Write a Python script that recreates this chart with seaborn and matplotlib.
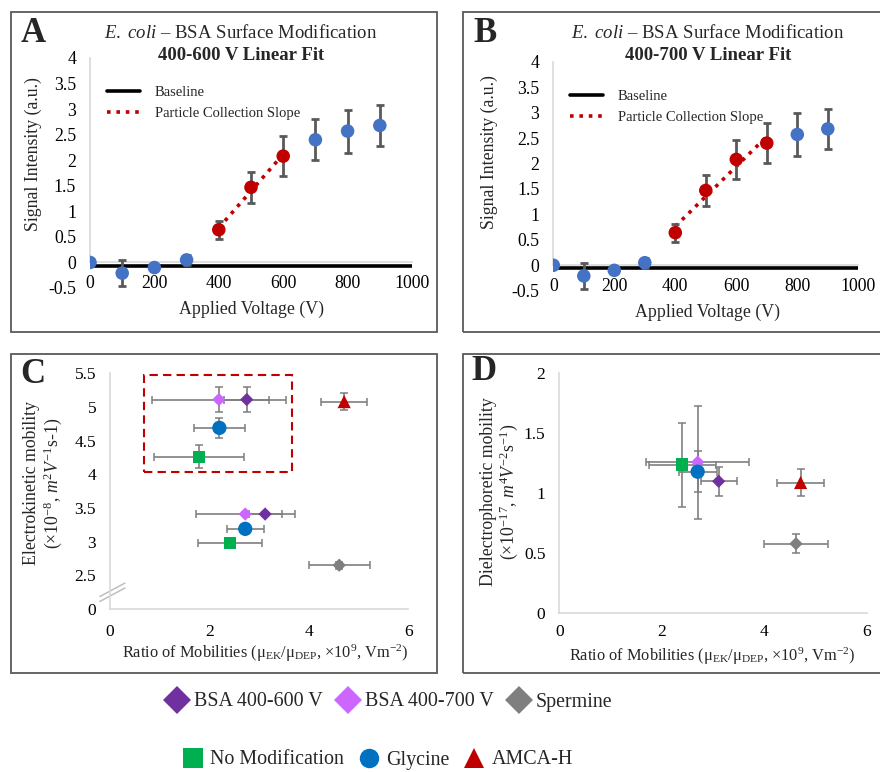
import numpy as np
import pandas as pd
import seaborn as sns
import matplotlib
matplotlib.use("Agg")
import matplotlib.pyplot as plt
from matplotlib.patches import Rectangle
from matplotlib.lines import Line2D
from matplotlib.ticker import FuncFormatter

# ---- panel A / B data (signal vs applied voltage) ----
voltage = [0, 100, 200, 300, 400, 500, 600, 700, 800, 900]
signal = [0.0, -0.21, -0.10, 0.05, 0.64, 1.47, 2.08, 2.40, 2.57, 2.68]
signal_err = [0.0, 0.26, 0.06, 0.10, 0.18, 0.30, 0.39, 0.40, 0.42, 0.40]
fit_range_a = (400, 600)
fit_range_b = (400, 700)

# ---- panel C / D data ----
groups = ["BSA 400-600 V", "BSA 400-700 V", "Spermine", "No Modification", "Glycine", "AMCA-H"]
colors = ["#7030A0", "#CC66FF", "#7F7F7F", "#00B050", "#0070C0", "#C00000"]
markers = ["D", "D", "D", "s", "o", "^"]

# C, upper cluster (inside dashed box) + AMCA-H
c_hi_groups = ["BSA 400-600 V", "BSA 400-700 V", "No Modification", "Glycine", "AMCA-H"]
c_hi_ratio = [2.75, 2.19, 1.79, 2.20, 4.71]
c_hi_ratio_err = [0.45, 1.35, 0.90, 0.52, 0.46]
c_hi_ek = [5.11, 5.11, 4.26, 4.69, 5.08]
c_hi_ek_err = [0.19, 0.19, 0.17, 0.15, 0.13]

# C, lower cluster
c_lo_groups = ["BSA 400-600 V", "BSA 400-700 V", "Spermine", "No Modification", "Glycine"]
c_lo_ratio = [3.12, 2.72, 4.61, 2.41, 2.72]
c_lo_ratio_err = [0.33, 1.00, 0.61, 0.65, 0.37]
c_lo_ek = [3.41, 3.41, 2.65, 2.98, 3.19]
c_lo_ek_err = [0.03, 0.03, 0.05, 0.03, 0.03]

# D
d_groups = ["BSA 400-600 V", "BSA 400-700 V", "Spermine", "No Modification", "Glycine", "AMCA-H"]
d_ratio = [3.11, 2.70, 4.62, 2.40, 2.70, 4.71]
d_ratio_err = [0.35, 1.00, 0.62, 0.65, 0.37, 0.46]
d_dep = [1.10, 1.26, 0.58, 1.24, 1.18, 1.09]
d_dep_err = [0.12, 0.47, 0.08, 0.35, 0.17, 0.11]

sns.set_style("white")
plt.rcParams['font.family'] = ['Liberation Serif', 'DejaVu Serif']
plt.rcParams['mathtext.fontset'] = 'custom'
plt.rcParams['mathtext.rm'] = 'Liberation Serif'
plt.rcParams['mathtext.it'] = 'Liberation Serif:italic'
plt.rcParams['mathtext.bf'] = 'Liberation Serif:bold'
plt.rcParams['axes.unicode_minus'] = False

W, H = 880, 772
fig = plt.figure(figsize=(W / 100, H / 100), dpi=100)


def px_axes(x0, x1, ytop, ybot):
    return fig.add_axes([x0 / W, 1 - ybot / H, (x1 - x0) / W, (ybot - ytop) / H])


def frame(x0, y0, x1, y1):
    fig.add_artist(Rectangle((x0 / W, 1 - y1 / H), (x1 - x0) / W, (y1 - y0) / H,
                             transform=fig.transFigure, fill=False,
                             ec="#595959", lw=1.3))


fmt = FuncFormatter(lambda v, p: f"{v:g}")
marker_size = {"D": 46, "s": 80, "o": 106, "^": 90}
gcolor = dict(zip(groups, colors))
gmarker = dict(zip(groups, markers))

frame(10.7, 12.3, 437.3, 332.3)
frame(463.3, 12.3, 882, 332.3)
frame(10.7, 354, 437.3, 672.7)
frame(463.3, 354, 882, 672.7)

# ---------------- A & B ----------------
df_sig = pd.DataFrame({"voltage": voltage, "signal": signal, "err": signal_err})
panels_ab = [
    (px_axes(90, 412, 58, 288), fit_range_a, "A", 33, 241, "400-600 V Linear Fit"),
    (px_axes(553.3, 858.3, 61.7, 290.7), fit_range_b, "B", 485, 708, "400-700 V Linear Fit"),
]
for ax, (lo, hi), letter, lx, tx, sub in panels_ab:
    inside = df_sig[(df_sig.voltage >= lo) & (df_sig.voltage <= hi)]
    outside = df_sig[(df_sig.voltage < lo) | (df_sig.voltage > hi)]
    ax.plot([0, 1000], [-0.06, -0.06], color="black", lw=2.6, label="Baseline", zorder=2)
    k, b = np.polyfit(inside.voltage, inside.signal, 1)
    xs = np.array([lo, hi])
    ax.plot(xs, k * xs + b, color="#C00000", ls=(0, (1, 1.6)), lw=2.6,
            label="Particle Collection Slope", zorder=3)
    ax.errorbar(df_sig.voltage, df_sig.signal, yerr=df_sig.err, fmt="none",
                ecolor="#595959", elinewidth=2, capsize=3, capthick=2, zorder=4)
    sns.scatterplot(data=outside, x="voltage", y="signal", ax=ax, color="#4472C4",
                    s=95, edgecolor="none", zorder=5)
    sns.scatterplot(data=inside, x="voltage", y="signal", ax=ax, color="#C00000",
                    s=95, edgecolor="none", zorder=5)
    ax.set_xlim(0, 1000)
    ax.set_ylim(-0.5, 4)
    ax.set_xticks(range(0, 1001, 200))
    ax.set_yticks(np.arange(-0.5, 4.01, 0.5))
    ax.yaxis.set_major_formatter(fmt)
    ax.spines["bottom"].set_position(("data", 0))
    ax.spines["left"].set_bounds(0, 4)
    for s in ["top", "right"]:
        ax.spines[s].set_visible(False)
    for s in ["bottom", "left"]:
        ax.spines[s].set_color("#D9D9D9")
        ax.spines[s].set_linewidth(1.2)
    ax.tick_params(axis="both", length=0, labelsize=12.8, colors="#000000")
    ax.tick_params(axis="y", pad=10)
    ax.tick_params(axis="x", pad=9)
    ax.set_xlabel("Applied Voltage (V)", fontsize=12.8)
    ax.set_ylabel("Signal Intensity (a.u.)", fontsize=12.8)
    ax.legend(loc="upper left", bbox_to_anchor=(0.03, 0.91), frameon=False,
              fontsize=10.5, borderpad=0, handlelength=2.3, handletextpad=1.0,
              labelspacing=0.55)
    fig.text(lx / W, 1 - 33 / H, letter, fontsize=25, fontweight="bold",
             ha="center", va="center")
    fig.text(tx / W, 1 - 33 / H, r"$\mathit{E.\ coli}$ – BSA Surface Modification",
             fontsize=13.5, ha="center", va="center")
    fig.text(tx / W, 1 - 55 / H, sub, fontsize=13.5, fontweight="bold",
             ha="center", va="center")

axA, axB = panels_ab[0][0], panels_ab[1][0]
axA.xaxis.set_label_coords(0.5, -0.057)
axA.yaxis.set_label_coords(-0.15, 0.583)
axB.xaxis.set_label_coords(0.504, -0.058)
axB.yaxis.set_label_coords(-0.181, 0.606)

# ---------------- C & D ----------------
axC = px_axes(110, 408.3, 373.3, 609)
axD = px_axes(559.3, 866.7, 373.3, 613.3)

df_c = pd.concat([
    pd.DataFrame({"group": c_hi_groups, "ratio": c_hi_ratio, "rerr": c_hi_ratio_err,
                  "y": c_hi_ek, "yerr": c_hi_ek_err}),
    pd.DataFrame({"group": c_lo_groups, "ratio": c_lo_ratio, "rerr": c_lo_ratio_err,
                  "y": c_lo_ek, "yerr": c_lo_ek_err}),
], ignore_index=True)
df_d = pd.DataFrame({"group": d_groups, "ratio": d_ratio, "rerr": d_ratio_err,
                     "y": d_dep, "yerr": d_dep_err})

for ax, df in [(axC, df_c), (axD, df_d)]:
    ax.errorbar(df.ratio, df.y, xerr=df.rerr, yerr=df.yerr, fmt="none",
                ecolor="#7F7F7F", elinewidth=1.2, capsize=3, capthick=1.1, zorder=2)
    for g in groups:
        sub = df[df.group == g]
        if len(sub) == 0:
            continue
        sns.scatterplot(data=sub, x="ratio", y="y", ax=ax, color=gcolor[g],
                        marker=gmarker[g], s=marker_size[gmarker[g]],
                        edgecolor="none", zorder=4)
    ax.set_xlim(0, 6)
    ax.set_xticks([0, 2, 4, 6])
    for s in ["top", "right"]:
        ax.spines[s].set_visible(False)
    for s in ["bottom", "left"]:
        ax.spines[s].set_color("#D9D9D9")
        ax.spines[s].set_linewidth(1.2)
    ax.tick_params(axis="both", length=0, labelsize=12.5, colors="#000000")
    ax.tick_params(axis="y", pad=10)
    ax.set_xlabel(r"Ratio of Mobilities (μ$_{\rm EK}$/μ$_{\rm DEP}$, ×10$^{9}$, Vm$^{-2}$)",
                  fontsize=11.8)

# C: broken y axis, bottom tick 2.0 labelled as 0
axC.set_ylim(2.0, 5.5)
c_ticks = np.arange(2.0, 5.51, 0.5)
axC.set_yticks(c_ticks)
axC.set_yticklabels(["0"] + [f"{v:g}" for v in c_ticks[1:]])
axC.tick_params(axis="x", pad=11)
axC.add_patch(Rectangle((0.68, 4.03), 2.99, 1.45, fill=False, ec="#C00000",
                        ls=(0, (4, 2.5)), lw=1.5, zorder=1))
for dy in (0.0, -0.021):
    axC.plot([-0.034, 0.05], [0.053 + dy, 0.110 + dy], transform=axC.transAxes,
             color="#BFBFBF", lw=1.1, clip_on=False)
axC.set_ylabel("Electrokinetic mobility\n(×10$^{-8}$, $m^{2}V^{-1}$s-1)",
               fontsize=12.8, linespacing=1.05)
axC.xaxis.set_label_coords(0.52, -0.144)
axC.yaxis.set_label_coords(-0.155, 0.535)

axD.set_ylim(0, 2)
axD.set_yticks(np.arange(0, 2.01, 0.5))
axD.yaxis.set_major_formatter(fmt)
axD.tick_params(axis="x", pad=8)
axD.set_ylabel("Dielectrophoretic mobility\n(×10$^{-17}$, $m^{4}V^{-2}$s$^{-1}$)",
               fontsize=12.8, linespacing=1.05)
axD.xaxis.set_label_coords(0.497, -0.136)
axD.yaxis.set_label_coords(-0.128, 0.505)

fig.text(33 / W, 1 - 375 / H, "C", fontsize=25, fontweight="bold", ha="center", va="center")
fig.text(484 / W, 1 - 372 / H, "D", fontsize=25, fontweight="bold", ha="center", va="center")

# ---------------- bottom legends ----------------
def handle(g):
    return Line2D([], [], ls="", marker=gmarker[g], color=gcolor[g], markersize=14,
                  markeredgewidth=0)

row1 = ["BSA 400-600 V", "BSA 400-700 V", "Spermine"]
row2 = ["No Modification", "Glycine", "AMCA-H"]
fig.legend([handle(g) for g in row1], row1, loc="center", ncol=3,
           bbox_to_anchor=(388 / W, 1 - 702 / H), frameon=False, fontsize=14.4,
           handletextpad=0.2, columnspacing=0.55, handlelength=1.35)
fig.legend([handle(g) for g in row2], row2, loc="center", ncol=3,
           bbox_to_anchor=(376 / W, 1 - 760 / H), frameon=False, fontsize=14.4,
           handletextpad=0.2, columnspacing=0.55, handlelength=1.35)

fig.savefig("out.png", dpi=100)
